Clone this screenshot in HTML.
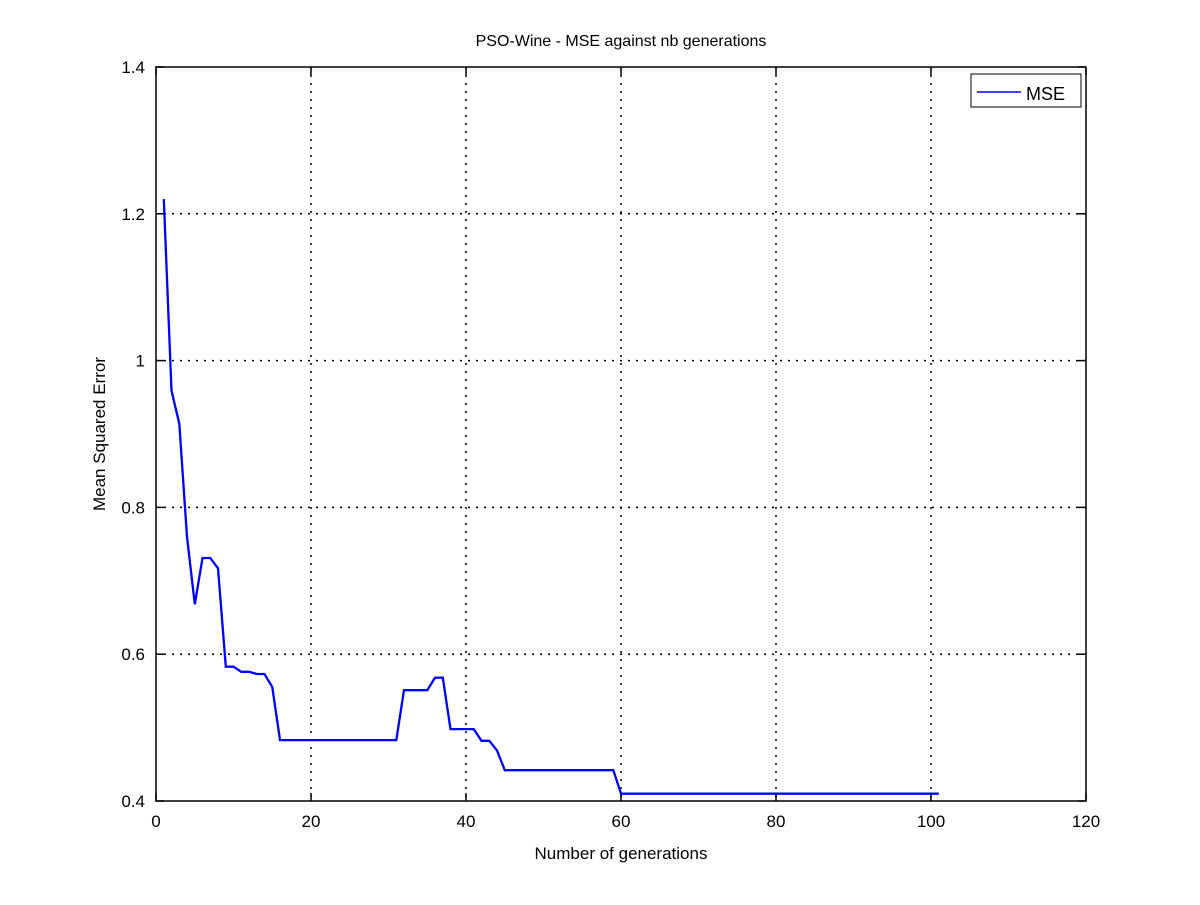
<!DOCTYPE html>
<html><head><meta charset="utf-8"><style>body{margin:0;background:#fff}svg text{font-family:"Liberation Sans",sans-serif}</style></head>
<body>
<svg id="c" width="1200" height="900" xmlns="http://www.w3.org/2000/svg">
<rect width="1200" height="900" fill="#fff"/>
<text x="621" y="46" font-size="16" text-anchor="middle">PSO-Wine - MSE against nb generations</text>
<g id="grid"></g>
<rect x="156" y="67" width="930" height="734" fill="none" stroke="#000" stroke-width="1.5"/>
<g id="ticks"></g>
<path id="line" fill="none" stroke="#0000ff" stroke-width="2.3"/>
<text x="621" y="859" font-size="17" text-anchor="middle">Number of generations</text>
<text transform="translate(105,434) rotate(-90)" font-size="17" text-anchor="middle">Mean Squared Error</text>
<g>
<rect x="971" y="74" width="110" height="33" fill="#fff" stroke="#000" stroke-width="1"/>
<line x1="977" y1="92" x2="1021" y2="92" stroke="#0000ff" stroke-width="1.5"/>
<text x="1026" y="100" font-size="18">MSE</text>
</g>
</svg>
<script>
const xTicks=[0,20,40,60,80,100,120];
const yTicks=[0.4,0.6,0.8,1.0,1.2,1.4];
const yTickLabels=["0.4","0.6","0.8","1","1.2","1.4"];
const gens=[1,2,3,4,5,6,7,8,9,10,11,12,13,14,15,16,31,32,35,36,37,38,41,42,43,44,45,59,60,101];
const mse=[1.22,0.959,0.914,0.76,0.668,0.731,0.731,0.717,0.583,0.583,0.576,0.576,0.573,0.573,0.555,0.483,0.483,0.551,0.551,0.568,0.568,0.498,0.498,0.482,0.482,0.469,0.442,0.442,0.41,0.41];
const X=v=>156+(v-0)/120*930;
const Y=v=>801-(v-0.4)/1.0*734;
const NS="http://www.w3.org/2000/svg";
const grid=document.getElementById('grid'),ticks=document.getElementById('ticks');
function mk(tag,attrs,parent){const e=document.createElementNS(NS,tag);for(const k in attrs)e.setAttribute(k,attrs[k]);parent.appendChild(e);return e;}
xTicks.forEach(t=>{
 const x=X(t);
 if(t>0&&t<120){const g=mk('line',{x1:x,y1:67,x2:x,y2:801,stroke:'#000','stroke-width':1.5,'stroke-dasharray':'2,6'},grid);
 
 }
 mk('line',{x1:x,y1:801,x2:x,y2:793,stroke:'#000','stroke-width':1.5},ticks);
 mk('line',{x1:x,y1:67,x2:x,y2:75,stroke:'#000','stroke-width':1.5},ticks);
 const l=mk('text',{x:x,y:827,'font-size':17,'text-anchor':'middle'},ticks);l.textContent=t;
 
 
});
yTicks.forEach((t,i)=>{
 const y=Y(t);
 if(i>0&&i<yTicks.length-1){const g=mk('line',{x1:156,y1:y,x2:1086,y2:y,stroke:'#000','stroke-width':1.5,'stroke-dasharray':'2,6'},grid);
 
 }
 mk('line',{x1:156,y1:y,x2:164,y2:y,stroke:'#000','stroke-width':1.5},ticks);
 mk('line',{x1:1086,y1:y,x2:1078,y2:y,stroke:'#000','stroke-width':1.5},ticks);
 const l=mk('text',{x:145,y:y+6,'font-size':17,'text-anchor':'end'},ticks);l.textContent=yTickLabels[i];
 
 
});
document.getElementById('line').setAttribute('d',gens.map((g,i)=>(i?'L':'M')+X(g).toFixed(1)+','+Y(mse[i]).toFixed(1)).join(''));
</script>
</body></html>
